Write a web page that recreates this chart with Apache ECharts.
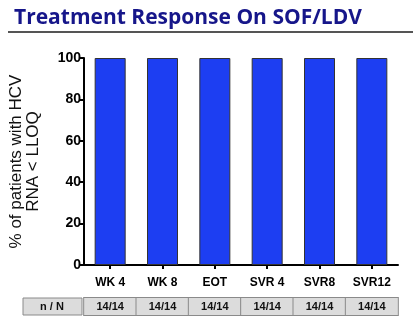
<!DOCTYPE html>
<html><head><meta charset="utf-8">
<script src="https://cdn.jsdelivr.net/npm/echarts@6/dist/echarts.min.js"></script>
<style>html,body{margin:0;padding:0;background:#fff}#c{width:420px;height:325px}</style>
</head><body><div id="c"></div>
<script>
const categories = ['WK 4', 'WK 8', 'EOT', 'SVR 4', 'SVR8', 'SVR12'];
const responsePct = [100, 100, 100, 100, 100, 100];
const nOverN = ['14/14', '14/14', '14/14', '14/14', '14/14', '14/14'];
const yTicks = [0, 20, 40, 60, 80, 100];
const titleText = 'Treatment Response On SOF/LDV';
const yName = '% of patients with HCV\nRNA < LLOQ';
const tableHeader = 'n / N';

const chart = echarts.init(document.getElementById('c'), null, {renderer: 'canvas'});
const F = 'Liberation Sans, Arial, sans-serif';
chart.setOption({
  animation: false,
  backgroundColor: '#fff',
  title: {
    text: titleText, left: 9, top: 3,
    textStyle: {fontFamily: 'Open Sans', fontWeight: 'bold', fontSize: 21, color: '#16168a'}
  },
  graphic: [
    {type: 'rect', shape: {x: 8, y: 31, width: 405, height: 2}, style: {fill: '#555'}},
    {type: 'rect', shape: {x: 23, y: 298, width: 59, height: 17}, style: {fill: '#dcdcdc', stroke: '#8a8a8a', lineWidth: 1}},
    {type: 'text', x: 52, y: 307, style: {text: tableHeader, fill: '#111', font: 'bold 11px ' + F, textAlign: 'center', textVerticalAlign: 'middle'}}
  ],
  grid: {left: 81, right: 22, top: 58, bottom: 60},
  xAxis: [{
    type: 'category', data: categories,
    axisLine: {lineStyle: {color: '#000', width: 2}},
    axisTick: {show: true, alignWithLabel: true, length: 4, lineStyle: {color: '#000', width: 2}},
    axisLabel: {interval: 0, color: '#000', fontFamily: F, fontWeight: 'bold', fontSize: 12, margin: 12}
  }, {
    type: 'category', data: nOverN, position: 'bottom', offset: 33,
    axisLine: {show: false}, axisTick: {show: false},
    axisLabel: {interval: 0, margin: 0, color: '#111', fontFamily: F, fontWeight: 'bold', fontSize: 11,
      backgroundColor: '#dcdcdc', borderColor: '#8a8a8a', borderWidth: 1,
      width: 52, height: 17, lineHeight: 17, align: 'center', verticalAlign: 'top'}
  }],
  yAxis: {
    type: 'value', min: 0, max: 100, interval: 20,
    name: yName, nameLocation: 'middle', nameGap: 42, nameRotate: 90,
    nameTextStyle: {fontFamily: F, fontSize: 17, color: '#111', lineHeight: 17},
    axisLine: {show: true, lineStyle: {color: '#000', width: 2}},
    axisTick: {show: true, length: 5, lineStyle: {color: '#000', width: 2}},
    splitLine: {show: false},
    axisLabel: {color: '#000', fontFamily: F, fontWeight: 'bold', fontSize: 14, margin: 3,
      formatter: v => yTicks.includes(v) ? String(v) : ''}
  },
  series: [{
    type: 'bar', data: responsePct, barWidth: 31, xAxisIndex: 0,
    itemStyle: {color: '#1d3ef2', borderColor: '#333', borderWidth: 1}
  }, {
    type: 'bar', data: [], xAxisIndex: 1
  }]
});
</script></body></html>
